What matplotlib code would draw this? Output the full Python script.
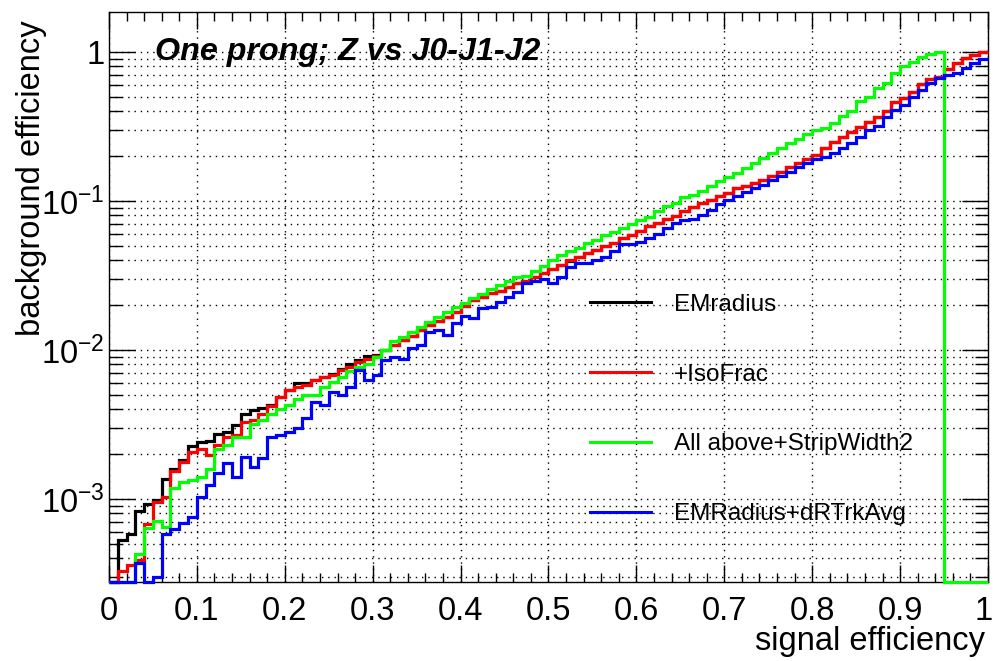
import numpy as np
import matplotlib
matplotlib.use("Agg")
import matplotlib.pyplot as plt
import matplotlib.transforms as mtransforms
from matplotlib.lines import Line2D
from matplotlib.ticker import FixedLocator, MultipleLocator, FuncFormatter, LogLocator

plt.rcParams['font.family'] = ['Liberation Sans', 'DejaVu Sans']
plt.rcParams['mathtext.default'] = 'regular'

# signal efficiency bins: 100 bins of width 0.01 between 0 and 1
N_BINS = 100

em_radius = [
    0, 5.3e-4, 5.8e-4, 8.3e-4, 9.3e-4, 9.9e-4, 1.37e-3, 1.58e-3, 1.82e-3, 2.25e-3,
    2.4e-3, 2.45e-3, 2.73e-3, 2.8e-3, 3.15e-3, 3.7e-3, 3.95e-3, 4.1e-3, 4.3e-3, 4.8e-3,
    5.4e-3, 6.0e-3, 6.0e-3, 6.3e-3, 6.6e-3, 6.9e-3, 7.4e-3, 8.0e-3, 8.6e-3, 9.1e-3,
    9.3e-3, 1.0e-2, 1.08e-2, 1.17e-2, 1.24e-2, 1.36e-2, 1.47e-2, 1.57e-2, 1.67e-2, 1.8e-2,
    1.97e-2, 2.15e-2, 2.28e-2, 2.42e-2, 2.5e-2, 2.65e-2, 2.8e-2, 2.9e-2, 3.1e-2, 3.3e-2,
    3.5e-2, 3.7e-2, 3.95e-2, 4.2e-2, 4.5e-2, 4.7e-2, 4.95e-2, 5.25e-2, 5.6e-2, 5.9e-2,
    6.3e-2, 6.8e-2, 7.1e-2, 7.5e-2, 7.9e-2, 8.5e-2, 9.1e-2, 9.7e-2, 0.101, 0.108,
    0.113, 0.122, 0.125, 0.132, 0.138, 0.147, 0.157, 0.168, 0.179, 0.19,
    0.204, 0.225, 0.25, 0.27, 0.29, 0.315, 0.34, 0.365, 0.40, 0.46,
    0.49, 0.54, 0.61, 0.655, 0.68, 0.765, 0.84, 0.91, 0.955, 0.99,
]

iso_frac = [
    0, 3.3e-4, 3.6e-4, 3.9e-4, 6.8e-4, 9.5e-4, 1.03e-3, 1.54e-3, 1.78e-3, 2.07e-3,
    2.15e-3, 1.96e-3, 2.3e-3, 2.6e-3, 2.7e-3, 3.3e-3, 3.4e-3, 3.7e-3, 4.2e-3, 4.8e-3,
    5.4e-3, 5.6e-3, 5.8e-3, 6.3e-3, 6.6e-3, 6.8e-3, 7.3e-3, 7.7e-3, 8.3e-3, 8.7e-3,
    9.1e-3, 1.0e-2, 1.08e-2, 1.17e-2, 1.24e-2, 1.36e-2, 1.47e-2, 1.57e-2, 1.67e-2, 1.8e-2,
    1.97e-2, 2.15e-2, 2.28e-2, 2.42e-2, 2.5e-2, 2.65e-2, 2.8e-2, 2.9e-2, 3.1e-2, 3.3e-2,
    3.5e-2, 3.7e-2, 4.0e-2, 4.2e-2, 4.5e-2, 4.7e-2, 4.95e-2, 5.2e-2, 5.6e-2, 5.9e-2,
    6.3e-2, 6.8e-2, 7.1e-2, 7.5e-2, 7.9e-2, 8.5e-2, 9.1e-2, 9.7e-2, 0.101, 0.108,
    0.113, 0.122, 0.125, 0.132, 0.138, 0.147, 0.157, 0.168, 0.179, 0.19,
    0.204, 0.225, 0.25, 0.27, 0.29, 0.315, 0.34, 0.365, 0.40, 0.46,
    0.49, 0.54, 0.61, 0.655, 0.68, 0.765, 0.84, 0.91, 0.955, 0.99,
]

strip_width2 = [
    0, 0, 0, 4.3e-4, 6.4e-4, 7.1e-4, 6.5e-4, 1.18e-3, 1.3e-3, 1.35e-3,
    1.4e-3, 1.6e-3, 2.15e-3, 2.3e-3, 2.6e-3, 2.6e-3, 3.2e-3, 3.4e-3, 3.7e-3, 4.0e-3,
    4.3e-3, 4.65e-3, 5.0e-3, 5.0e-3, 5.6e-3, 6.1e-3, 6.6e-3, 7.2e-3, 7.7e-3, 8.1e-3,
    8.9e-3, 1.0e-2, 1.14e-2, 1.22e-2, 1.32e-2, 1.43e-2, 1.54e-2, 1.67e-2, 1.8e-2, 1.94e-2,
    2.05e-2, 2.22e-2, 2.39e-2, 2.56e-2, 2.73e-2, 2.91e-2, 3.1e-2, 3.15e-2, 3.4e-2, 3.65e-2,
    4.0e-2, 4.3e-2, 4.6e-2, 4.8e-2, 5.2e-2, 5.5e-2, 5.9e-2, 6.2e-2, 6.6e-2, 7.0e-2,
    7.4e-2, 7.8e-2, 8.5e-2, 9.2e-2, 9.7e-2, 0.106, 0.11, 0.117, 0.126, 0.135,
    0.144, 0.153, 0.166, 0.179, 0.193, 0.209, 0.226, 0.244, 0.26, 0.28,
    0.30, 0.31, 0.332, 0.372, 0.404, 0.47, 0.50, 0.57, 0.62, 0.72,
    0.80, 0.86, 0.92, 0.97, 1.0, 0, 0, 0, 0, 0,
]

dr_trk_avg = [
    0, 0, 0, 3.7e-4, 0, 3.0e-4, 5.8e-4, 6.3e-4, 6.9e-4, 7.6e-4,
    1.03e-3, 1.24e-3, 1.5e-3, 1.75e-3, 1.4e-3, 1.9e-3, 1.65e-3, 1.88e-3, 2.6e-3, 2.7e-3,
    2.8e-3, 3.0e-3, 3.5e-3, 4.5e-3, 4.3e-3, 5.2e-3, 5.0e-3, 5.6e-3, 7.3e-3, 6.3e-3,
    6.8e-3, 8.5e-3, 8.9e-3, 8.7e-3, 1.03e-2, 1.08e-2, 1.32e-2, 1.36e-2, 1.26e-2, 1.52e-2,
    1.69e-2, 1.63e-2, 1.9e-2, 1.94e-2, 2.1e-2, 2.28e-2, 2.44e-2, 2.8e-2, 2.9e-2, 3.0e-2,
    2.8e-2, 3.1e-2, 3.6e-2, 3.85e-2, 3.85e-2, 4.0e-2, 4.2e-2, 4.6e-2, 5.1e-2, 5.1e-2,
    5.3e-2, 5.6e-2, 6.0e-2, 6.6e-2, 7.1e-2, 7.4e-2, 7.5e-2, 8.1e-2, 8.7e-2, 9.6e-2,
    0.102, 0.107, 0.115, 0.122, 0.128, 0.138, 0.147, 0.157, 0.168, 0.179,
    0.19, 0.197, 0.21, 0.226, 0.246, 0.27, 0.30, 0.32, 0.365, 0.41,
    0.44, 0.50, 0.555, 0.62, 0.665, 0.70, 0.725, 0.78, 0.84, 0.89,
]

series = [
    (em_radius, 'black', 'EMradius'),
    (iso_frac, '#ff0000', '+IsoFrac'),
    (strip_width2, '#00ff00', 'All above+StripWidth2'),
    (dr_trk_avg, '#0000ff', 'EMRadius+dRTrkAvg'),
]

YMIN, YMAX = 2.77e-4, 1.85

fig = plt.figure(figsize=(9.95, 6.61), dpi=100)
ax = fig.add_axes([0.1095, 0.1195, 0.8835, 0.8623])

edges = np.linspace(0, 1, N_BINS + 1)
for vals, col, lab in series:
    v = np.asarray(vals, dtype=float)
    v = np.where(v > 0, v, YMIN)  # empty bins sit on the frame, as ROOT does
    ax.stairs(v, edges, color=col, lw=2.3, baseline=None, clip_on=False, zorder=3)

ax.set_yscale('log')
ax.set_xlim(0, 1)
ax.set_ylim(YMIN, YMAX)

ax.xaxis.set_major_locator(MultipleLocator(0.1))
ax.xaxis.set_minor_locator(MultipleLocator(0.02))
ax.xaxis.set_major_formatter(FuncFormatter(lambda x, p: '%g' % round(x, 2)))
ax.yaxis.set_major_locator(FixedLocator([1e-3, 1e-2, 1e-1, 1]))
ax.yaxis.set_minor_locator(LogLocator(base=10, subs=np.arange(2, 10)))


def ylab(v, p):
    if abs(v - 1) < 1e-9:
        return '1'
    return r'$10^{%d}$' % int(round(np.log10(v)))


ax.yaxis.set_major_formatter(FuncFormatter(ylab))

ax.grid(True, axis='x', which='major', color='k', ls=(0, (1, 3.5)), lw=1.0)
ax.grid(True, axis='y', which='both', color='k', ls=(0, (1, 3.5)), lw=1.0)
ax.set_axisbelow(True)

ax.tick_params(which='both', direction='in', top=True, right=True, width=1.0, color='k')
ax.tick_params(axis='x', which='major', length=12.5, pad=10, labelsize=23.5)
ax.tick_params(axis='x', which='minor', length=6.2)
ax.tick_params(axis='y', which='major', length=19, pad=3, labelsize=23.5)
ax.tick_params(axis='y', which='minor', length=9.5)
for s in ax.spines.values():
    s.set_linewidth(1.0)

ax.set_xlabel('signal efficiency', fontsize=23.5, loc='right')
ax.xaxis.set_label_coords(0.9966, -0.077)
ax.set_ylabel('background efficiency', fontsize=23.5, loc='top')
ax.yaxis.set_label_coords(-0.071, 0.985)

ax.text(0.052, 0.93, 'One prong; Z vs J0-J1-J2', transform=ax.transAxes,
        fontsize=23.2, fontweight='bold', fontstyle='italic', va='center', ha='left')

handles = [Line2D([], [], color=c, lw=2.2) for _, c, _ in series]
labels = [lab for _, _, lab in series]
ax.legend(handles, labels, loc='upper left', bbox_to_anchor=(0.547, 0.506),
          frameon=False, fontsize=17.5, handlelength=2.5, handletextpad=0.95,
          labelspacing=1.97, borderpad=0, borderaxespad=0)

fig.canvas.draw()
# keep the "1" at the right end of the x axis inside the picture
for tick in ax.xaxis.get_major_ticks():
    if abs(tick.get_loc() - 1.0) < 1e-6:
        lbl = tick.label1
        lbl.set_transform(lbl.get_transform() +
                          mtransforms.ScaledTranslation(-4 / 100, 0, fig.dpi_scale_trans))

fig.savefig('out.png', dpi=100)
